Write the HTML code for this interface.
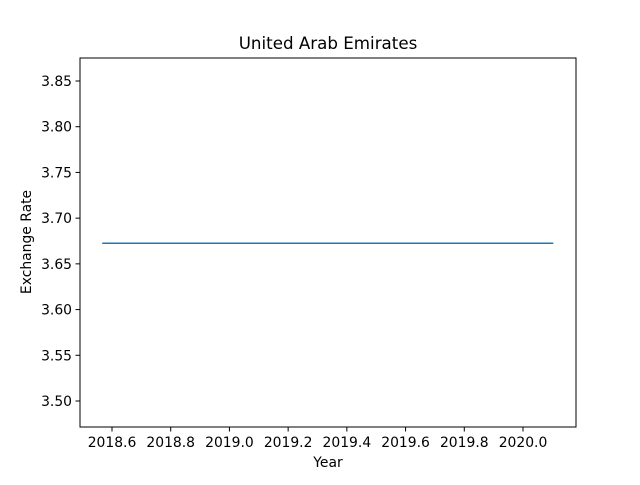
<!DOCTYPE html>
<html><head><meta charset="utf-8"><style>
body{margin:0;background:#fff;}
svg{font-family:"DejaVu Sans","Liberation Sans",sans-serif;}
</style></head><body>
<svg id="chart" width="640" height="480" xmlns="http://www.w3.org/2000/svg">
<rect width="640" height="480" fill="#fff"/>
<text x="328" y="49" font-size="16.7" text-anchor="middle">United Arab Emirates</text>
<g id="ticks"></g>
<path id="series" fill="none" stroke="#1f77b4" stroke-width="1.5"/>
<rect x="80" y="58" width="496" height="369" fill="none" stroke="#000" stroke-width="1"/>
<text x="328" y="467" font-size="13.9" text-anchor="middle">Year</text>
<text x="31" y="242" font-size="13.9" text-anchor="middle" transform="rotate(-90 31 242)">Exchange Rate</text>
</svg>
<script>
const years = [2018.5667, 2020.1033];
const rates = [3.6725, 3.6725];
const xTicks = [2018.6, 2018.8, 2019.0, 2019.2, 2019.4, 2019.6, 2019.8, 2020.0];
const yTicks = [3.50, 3.55, 3.60, 3.65, 3.70, 3.75, 3.80, 3.85];
const X = v => 112 + (v - 2018.6) * 293.57;
const Y = v => 401 - (v - 3.50) * 914.3;
const NS = "http://www.w3.org/2000/svg";
const g = document.getElementById('ticks');
xTicks.forEach(t => {
  const l = document.createElementNS(NS, 'line');
  l.setAttribute('x1', X(t)); l.setAttribute('x2', X(t));
  l.setAttribute('y1', 427); l.setAttribute('y2', 431.5);
  l.setAttribute('stroke', '#000');
  
  
  g.appendChild(l);
  const tx = document.createElementNS(NS, 'text');
  tx.setAttribute('x', X(t)); tx.setAttribute('y', 447);
  tx.setAttribute('font-size', '13.9'); tx.setAttribute('text-anchor', 'middle');
  tx.textContent = t.toFixed(1);
  
  
  g.appendChild(tx);
});
yTicks.forEach(t => {
  const l = document.createElementNS(NS, 'line');
  l.setAttribute('x1', 75.5); l.setAttribute('x2', 80);
  l.setAttribute('y1', Y(t)); l.setAttribute('y2', Y(t));
  l.setAttribute('stroke', '#000');
  
  
  g.appendChild(l);
  const tx = document.createElementNS(NS, 'text');
  tx.setAttribute('x', 72); tx.setAttribute('y', Y(t) + 5);
  tx.setAttribute('font-size', '13.9'); tx.setAttribute('text-anchor', 'end');
  tx.textContent = t.toFixed(2);
  
  
  g.appendChild(tx);
});
document.getElementById('series').setAttribute('d',
  years.map((y, i) => (i ? 'L' : 'M') + X(y) + ' ' + Y(rates[i])).join(' '));
</script>
</body></html>
